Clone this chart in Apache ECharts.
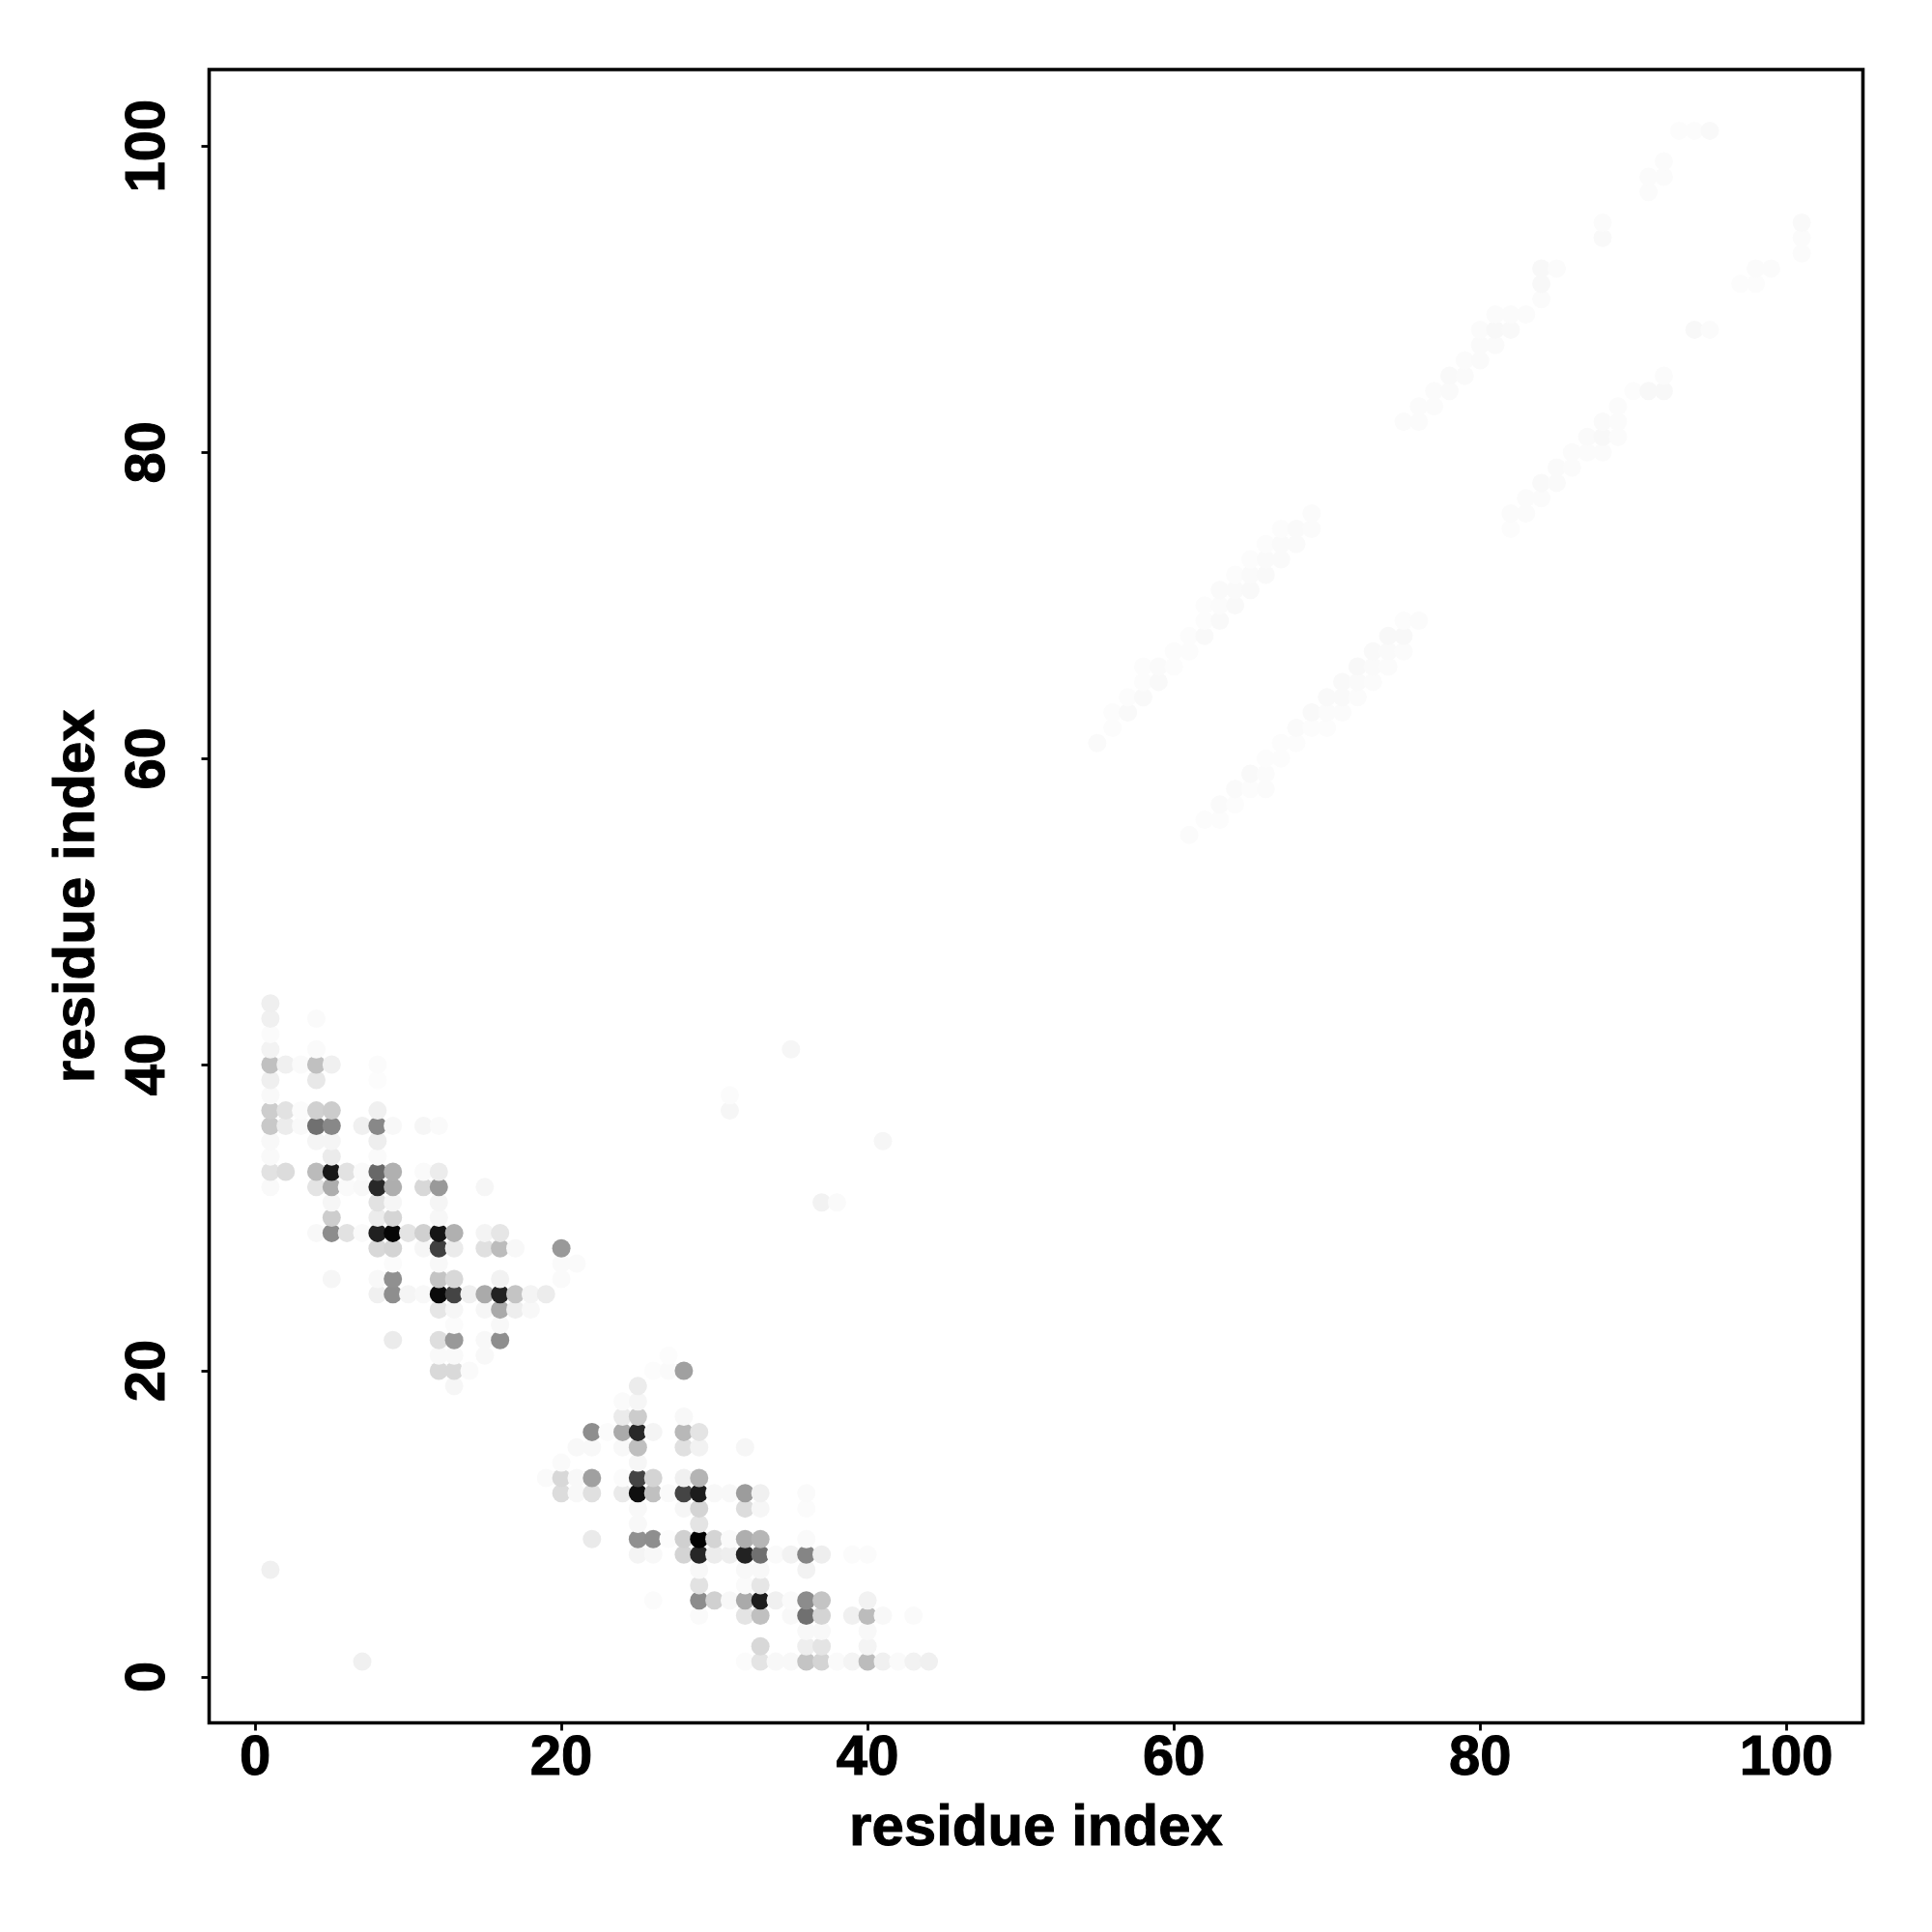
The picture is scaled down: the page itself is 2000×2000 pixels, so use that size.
<!DOCTYPE html>
<html><head><meta charset="utf-8">
<style>html,body{margin:0;padding:0;background:#fff}#c{width:2000px;height:2000px}</style>
<script src="https://cdn.jsdelivr.net/npm/echarts@6/dist/echarts.min.js"></script>
</head><body><div id="c"></div>
<script>
const xTicks=[0,20,40,60,80,100];
const yTicks=[0,20,40,60,80,100];
const axisName='residue index';
// [x, y, grey level 0-255]
const clusterA=[
[1,44,0xef],[1,43,0xf0],[4,43,0xfa],[1,42,0xfb],[1,41,0xf3],[4,41,0xfa],
[1,40,0xc0],[2,40,0xf0],[3,40,0xfa],[4,40,0xc0],[5,40,0xf0],[8,40,0xfb],
[1,39,0xef],[4,39,0xe8],[8,39,0xfc],[1,38,0xf9],
[1,37,0xcd],[2,37,0xe2],[3,37,0xfb],[4,37,0xd0],[5,37,0xcc],[8,37,0xf0],
[1,36,0xc8],[2,36,0xec],[3,36,0xf9],[4,36,0x70],[5,36,0x88],[7,36,0xf0],[8,36,0x88],[9,36,0xf8],[11,36,0xf6],[12,36,0xfa],
[1,35,0xf8],[4,35,0xf5],[5,35,0xf5],[8,35,0xee],
[1,34,0xf9],[5,34,0xeb],[8,34,0xfa],
[1,33,0xe2],[2,33,0xdc],[4,33,0xbb],[5,33,0x18],[6,33,0xe2],[7,33,0xfa],[8,33,0x68],[9,33,0xb0],[11,33,0xfa],[12,33,0xec],
[1,32,0xf9],[4,32,0xe4],[5,32,0xad],[6,32,0xfa],[7,32,0xf8],[8,32,0x28],[9,32,0xae],[11,32,0xd8],[12,32,0x99],[15,32,0xf6],
[5,31,0xf6],[8,31,0xe2],[9,31,0xf6],[12,31,0xf5],
[5,30,0xcd],[8,30,0xec],[9,30,0xd5],[12,30,0xf7],
[4,29,0xf8],[5,29,0x8c],[6,29,0xe2],[7,29,0xfa],[8,29,0x20],[9,29,0x05],[10,29,0xe4],[11,29,0xd0],[12,29,0x15],[13,29,0xb0],[15,29,0xf4],[16,29,0xe6],
[8,28,0xd8],[9,28,0xd4],[11,28,0xf6],[12,28,0x40],[13,28,0xeb],[15,28,0xe0],[16,28,0xbc],[17,28,0xf8],[20,28,0x99],
[9,27,0xfb],[12,27,0xf8],[20,27,0xfa],[21,27,0xfa],
[5,26,0xf6],[8,26,0xf8],[9,26,0x90],[12,26,0xc4],[13,26,0xd8],[16,26,0xf2],[20,26,0xfa],
[8,25,0xf0],[9,25,0x8e],[10,25,0xf5],[11,25,0xf8],[12,25,0x0a],[13,25,0x44],[14,25,0xf0],[15,25,0xaa],[16,25,0x22],[17,25,0xc4],[18,25,0xf4],[19,25,0xec],
[12,24,0xe6],[13,24,0xf6],[15,24,0xf6],[16,24,0xaa],[17,24,0xee],[18,24,0xf8],
[13,23,0xfb],[16,23,0xf8],
[9,22,0xeb],[12,22,0xde],[13,22,0x99],[15,22,0xf8],[16,22,0x8e],
[12,21,0xf9],[13,21,0xf9],[15,21,0xf8],
[12,20,0xd9],[13,20,0xd9],[14,20,0xfa],[13,19,0xf6]
];
const clusterB=[
[27,21,0xfc],[28,20,0xa0],[27,20,0xfa],[26,20,0xfc],
[25,19,0xec],[24,18,0xfa],[25,18,0xf6],
[24,17,0xeb],[25,17,0xcc],[28,17,0xf8],
[22,16,0x8e],[23,16,0xfb],[24,16,0xaa],[25,16,0x28],[26,16,0xf4],[28,16,0xb8],[29,16,0xe4],
[21,15,0xf8],[22,15,0xf8],[24,15,0xf8],[25,15,0xbf],[28,15,0xe0],[29,15,0xf2],[32,15,0xf6],
[20,14,0xfa],[25,14,0xf6],
[19,13,0xfa],[20,13,0xd8],[21,13,0xf8],[22,13,0xa0],[24,13,0xfb],[25,13,0x44],[26,13,0xd4],[28,13,0xf0],[29,13,0xb4],
[20,12,0xdc],[21,12,0xf8],[22,12,0xe0],[24,12,0xea],[25,12,0x0f],[26,12,0xc0],[27,12,0xfa],[28,12,0x44],[29,12,0x1c],[30,12,0xf8],[31,12,0xf8],[32,12,0x9c],[33,12,0xf0],[36,12,0xfa],
[25,11,0xf8],[28,11,0xf6],[29,11,0xd4],[32,11,0xdc],[33,11,0xf6],[36,11,0xfb],
[25,10,0xf8],[29,10,0xe4],
[22,9,0xea],[25,9,0x90],[26,9,0x8e],[27,9,0xfc],[28,9,0xd0],[29,9,0x03],[30,9,0xd4],[31,9,0xfa],[32,9,0xae],[33,9,0xb6],[36,9,0xfa],
[25,8,0xf4],[26,8,0xf8],[28,8,0xd4],[29,8,0x26],[30,8,0xec],[31,8,0xee],[32,8,0x22],[33,8,0x70],[34,8,0xfa],[35,8,0xf2],[36,8,0x85],[37,8,0xee],[39,8,0xfb],[40,8,0xfb],
[29,7,0xf8],[32,7,0xf8],[33,7,0xf8],[36,7,0xf2],
[29,6,0xe2],[32,6,0xfa],[33,6,0xe6],
[26,5,0xfb],[29,5,0x8c],[30,5,0xd0],[31,5,0xf8],[32,5,0xaa],[33,5,0x1c],[34,5,0xf0],[35,5,0xfa],[36,5,0x8c],[37,5,0xc4],[40,5,0xf2],
[29,4,0xfa],[32,4,0xe4],[33,4,0xc0],[35,4,0xf8],[36,4,0x70],[37,4,0xd4],[39,4,0xf0],[40,4,0xbc],[41,4,0xf8],[43,4,0xfa],
[36,3,0xf8],[37,3,0xf8],[40,3,0xf8],
[33,2,0xd8],[36,2,0xee],[37,2,0xe4],[40,2,0xf4],
[32,1,0xfb],[33,1,0xe4],[34,1,0xf8],[35,1,0xf8],[36,1,0xc4],[37,1,0xd4],[38,1,0xfa],[39,1,0xf4],[40,1,0xbc],[41,1,0xf0],[42,1,0xfa],[43,1,0xf2],[44,1,0xf0]
];
const isolated=[
[1,7,0xf0],[7,1,0xf0],[35,41,0xf6],[31,38,0xfb],[31,37,0xf6],[41,35,0xf6],[37,31,0xf2],[38,31,0xfa]
];
const bandUpper=[
[55,61,0xfa],[56,62,0xfc],[56,63,0xfc],[57,63,0xf9],[57,64,0xfc],[58,64,0xf9],[58,65,0xfc],[58,66,0xfc],[59,65,0xf9],[59,66,0xfa],
[60,66,0xfc],[60,67,0xfc],[61,67,0xfc],[61,68,0xfc],[62,68,0xf9],[62,69,0xfc],[62,70,0xfc],[63,69,0xf9],[63,70,0xfb],[63,71,0xfa],
[64,70,0xf9],[64,71,0xfa],[64,72,0xfc],[65,71,0xf9],[65,72,0xfa],[65,73,0xfc],[66,72,0xf9],[66,73,0xfa],[66,74,0xfc],[67,73,0xfa],
[67,74,0xfa],[67,75,0xfc],[68,74,0xfa],[68,75,0xfa],[69,75,0xfb],[69,76,0xfb],
[75,82,0xfb],[76,82,0xfb],[76,83,0xfb],[77,83,0xfb],[77,84,0xfb],[78,84,0xfa],[78,85,0xf9],[79,85,0xfa],[79,86,0xfb],[80,86,0xfa],
[80,87,0xfa],[81,87,0xfa],[80,88,0xfb],[81,88,0xf8],[82,88,0xf9],[81,89,0xfb],[82,89,0xfb],[83,89,0xfb],
[84,90,0xfb],[84,91,0xf8],[84,92,0xf8],[85,92,0xfb],[88,94,0xf9],[88,95,0xfb],
[91,97,0xfb],[91,98,0xfb],[92,98,0xfb],[92,99,0xfb],[93,101,0xfc],[94,101,0xfc],[95,101,0xf9]
];
const bandLower=[
[61,55,0xfb],[62,56,0xfc],[63,56,0xfc],[63,57,0xfa],[64,57,0xfc],[64,58,0xfa],[65,58,0xfc],[65,59,0xf9],[66,58,0xfb],[66,59,0xfb],[66,60,0xfc],
[67,60,0xfc],[67,61,0xfc],[68,61,0xfc],[68,62,0xfa],[69,62,0xfc],[69,63,0xf9],[70,62,0xfc],[70,63,0xfb],[70,64,0xf9],
[71,63,0xfb],[71,64,0xf9],[71,65,0xf9],[72,64,0xfb],[72,65,0xfa],[72,66,0xf8],[73,65,0xfb],[73,66,0xfa],[73,67,0xf9],
[74,66,0xfb],[74,67,0xfa],[74,68,0xf8],[75,67,0xfb],[75,68,0xf8],[75,69,0xfc],[76,69,0xfb],
[82,75,0xfc],[82,76,0xfb],[83,76,0xfb],[83,77,0xfb],[84,77,0xfb],[84,78,0xf9],[85,78,0xfa],[85,79,0xfa],[86,79,0xfb],[86,80,0xfb],
[87,80,0xfb],[87,81,0xfa],[88,80,0xfb],[88,81,0xf8],[88,82,0xfa],[89,81,0xfb],[89,82,0xfb],[89,83,0xfb],
[90,84,0xfc],[91,84,0xf8],[92,84,0xf8],[92,85,0xfb],[94,88,0xf8],[95,88,0xfb],
[97,91,0xfc],[98,91,0xfc],[98,92,0xfb],[99,92,0xfb],[101,93,0xfb],[101,94,0xfb],[101,95,0xf9]
];

// later x, then later y, is painted over earlier points
const cells=[...clusterA,...clusterB,...isolated,...bandUpper,...bandLower]
  .sort((a,b)=>a[0]-b[0]||a[1]-b[1]);

const font='"Liberation Sans",Arial,sans-serif';
const heavy={fontFamily:font,fontWeight:'bold',color:'#000',textBorderColor:'#000',textBorderWidth:1};
function axis(ticks,extra){
  return Object.assign({
    type:'value',min:-3,max:105,name:axisName,nameLocation:'middle',
    nameTextStyle:Object.assign({fontSize:60},heavy),
    axisLine:{show:false,onZero:false},
    splitLine:{show:false},
    minorTick:{show:false},
    axisTick:{show:true,length:8,inside:false,customValues:ticks,lineStyle:{color:'#000',width:2.8}}
  },extra);
}
const chart=echarts.init(document.getElementById('c'),null,{renderer:'canvas'});
chart.setOption({
  animation:false,
  backgroundColor:'#ffffff',
  grid:{left:216.5,right:71.5,top:72,bottom:216.5,show:true,backgroundColor:'#fff',borderColor:'#000',borderWidth:3.6},
  xAxis:axis(xTicks,{nameGap:80,
    axisLabel:Object.assign({customValues:xTicks,margin:8,fontSize:58},heavy)}),
  yAxis:axis(yTicks,{nameGap:106,
    axisLabel:Object.assign({customValues:yTicks,rotate:90,margin:34,fontSize:58,align:'center',verticalAlign:'bottom'},heavy)}),
  visualMap:{show:false,type:'continuous',dimension:2,min:0,max:255,inRange:{color:['#000000','#ffffff']}},
  series:[{type:'scatter',data:cells,symbol:'circle',symbolSize:19,silent:true,
    encode:{x:0,y:1},itemStyle:{opacity:1},progressive:0,large:false}]
});
</script></body></html>
